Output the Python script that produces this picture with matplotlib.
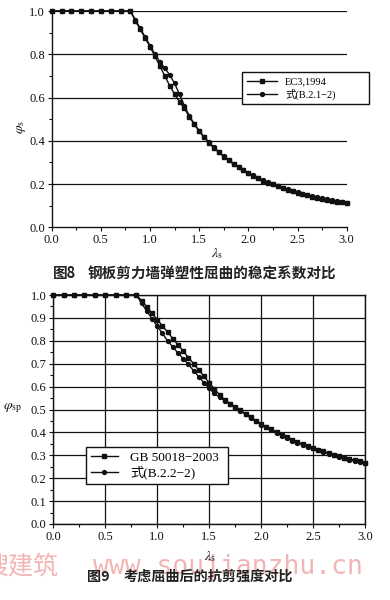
import matplotlib
matplotlib.use("Agg")
import matplotlib.pyplot as plt
from matplotlib.ticker import MultipleLocator, FormatStrFormatter

plt.rcParams['font.family'] = ['Liberation Serif', 'Noto Sans CJK SC']
plt.rcParams['mathtext.fontset'] = 'stix'

# ---------------- data ----------------
lam = [0.0, 0.1, 0.2, 0.3, 0.4, 0.5, 0.6, 0.7, 0.8,
       0.85, 0.9, 0.95, 1.0, 1.05, 1.1, 1.15, 1.2, 1.25, 1.3, 1.35, 1.4,
       1.45, 1.5, 1.55, 1.6, 1.65, 1.7, 1.75, 1.8, 1.85, 1.9, 1.95, 2.0,
       2.05, 2.1, 2.15, 2.2, 2.25, 2.3, 2.35, 2.4, 2.45, 2.5, 2.55, 2.6,
       2.65, 2.7, 2.75, 2.8, 2.85, 2.9, 2.95, 3.0]

# Figure 8
phi_ec3 = [1.0, 1.0, 1.0, 1.0, 1.0, 1.0, 1.0, 1.0, 1.0,
           0.955, 0.915, 0.875, 0.835, 0.79, 0.745, 0.70, 0.655, 0.615, 0.58, 0.55, 0.51,
           0.476, 0.444, 0.416, 0.391, 0.367, 0.346, 0.327, 0.309, 0.292, 0.277, 0.263, 0.25,
           0.238, 0.227, 0.216, 0.207, 0.198, 0.189, 0.181, 0.174, 0.167, 0.16, 0.154, 0.148,
           0.142, 0.137, 0.132, 0.128, 0.123, 0.119, 0.115, 0.111]
phi_b21 = [1.0, 1.0, 1.0, 1.0, 1.0, 1.0, 1.0, 1.0, 1.0,
           0.96, 0.92, 0.88, 0.84, 0.80, 0.765, 0.735, 0.705, 0.665, 0.615, 0.56, 0.515,
           0.478, 0.446, 0.418, 0.393, 0.369, 0.348, 0.329, 0.311, 0.294, 0.279, 0.265, 0.252,
           0.240, 0.229, 0.218, 0.209, 0.200, 0.191, 0.183, 0.176, 0.169, 0.162, 0.156, 0.150,
           0.144, 0.139, 0.134, 0.130, 0.125, 0.121, 0.117, 0.113]

# Figure 9
phi_gb = [1.0, 1.0, 1.0, 1.0, 1.0, 1.0, 1.0, 1.0, 1.0,
          0.975, 0.948, 0.92, 0.893, 0.865, 0.838, 0.81, 0.783, 0.755, 0.727, 0.70, 0.672,
          0.645, 0.617, 0.59, 0.565, 0.542, 0.526, 0.511, 0.497, 0.482, 0.466, 0.451, 0.437,
          0.425, 0.413, 0.401, 0.389, 0.378, 0.367, 0.358, 0.349, 0.341, 0.333, 0.325, 0.317,
          0.310, 0.303, 0.296, 0.290, 0.284, 0.278, 0.273, 0.268]
phi_b22 = [1.0, 1.0, 1.0, 1.0, 1.0, 1.0, 1.0, 1.0, 1.0,
           0.963, 0.93, 0.896, 0.864, 0.832, 0.80, 0.773, 0.747, 0.722, 0.697, 0.67, 0.643,
           0.617, 0.592, 0.57, 0.553, 0.538, 0.523, 0.508, 0.494, 0.479, 0.463, 0.448, 0.434,
           0.422, 0.41, 0.398, 0.386, 0.375, 0.364, 0.355, 0.346, 0.338, 0.330, 0.322, 0.314,
           0.307, 0.300, 0.293, 0.287, 0.281, 0.275, 0.270, 0.265]

labels8 = ['EC3,1994', '式(B.2.1−2)']
labels9 = ['GB 50018−2003', '式(B.2.2−2)']
title8 = ('图8', '钢板剪力墙弹塑性屈曲的稳定系数对比')
title9 = ('图9', '考虑屈曲后的抗剪强度对比')

W, H = 390, 600
fig = plt.figure(figsize=(3.9, 6.0), dpi=100)

def fx(px):
    return px / W

def fy(py):
    return 1 - py / H

ink = '#111111'

# ---------------- Figure 8 ----------------
ax1 = fig.add_axes([fx(51.7), fy(227.3), fx(346.7 - 51.7), (227.3 - 11) / H])
ax1.plot(lam, phi_ec3, color=ink, lw=1.0, marker='s', ms=3.2, label=labels8[0], clip_on=False, zorder=3)
ax1.plot(lam, phi_b21, color=ink, lw=1.0, marker='o', ms=2.8, label=labels8[1], clip_on=False, zorder=3)
ax1.set_xlim(0, 3)
ax1.set_ylim(0, 1)
ax1.xaxis.set_major_locator(MultipleLocator(0.5))
ax1.xaxis.set_minor_locator(MultipleLocator(0.25))
ax1.yaxis.set_major_locator(MultipleLocator(0.2))
ax1.yaxis.set_minor_locator(MultipleLocator(0.1))
ax1.xaxis.set_major_formatter(FormatStrFormatter('%.1f'))
ax1.yaxis.set_major_formatter(FormatStrFormatter('%.1f'))
for yv in [0.2, 0.4, 0.6, 0.8, 1.0]:
    ax1.axhline(yv, color=ink, lw=0.9, zorder=1)
for s in ['top', 'right']:
    ax1.spines[s].set_visible(False)
for s in ['left', 'bottom']:
    ax1.spines[s].set_linewidth(1.0)
    ax1.spines[s].set_color(ink)
ax1.tick_params(which='major', direction='out', length=3, width=0.8, labelsize=9, colors=ink, pad=2)
ax1.tick_params(which='minor', direction='out', length=2, width=0.8, colors=ink)
fig.text(fx(21), fy(127), r'$\varphi_{\mathrm{s}}$', rotation=90, ha='center', va='center', fontsize=10, color=ink)
fig.text(fx(216.7), fy(253.3), r'$\lambda_{\mathrm{s}}$', ha='center', va='center', fontsize=10, color=ink)
leg1 = ax1.legend(loc='upper left', bbox_to_anchor=(fx(242), fy(106.7), fx(369 - 242), (106.7 - 72.5) / H),
                  bbox_transform=fig.transFigure, mode='expand', borderaxespad=0,
                  fontsize=7.5, handlelength=2.9, handletextpad=0.8, borderpad=0.45,
                  labelspacing=0.2, fancybox=False, framealpha=1, edgecolor=ink)
leg1.get_frame().set_linewidth(1.0)
leg1.set_zorder(5)

# ---------------- Figure 9 ----------------
ax2 = fig.add_axes([fx(53.3), fy(524), fx(365 - 53.3), (524 - 295) / H])
ax2.plot(lam, phi_gb, color=ink, lw=1.0, marker='s', ms=3.2, label=labels9[0], clip_on=False, zorder=3)
ax2.plot(lam, phi_b22, color=ink, lw=1.0, marker='o', ms=2.8, label=labels9[1], clip_on=False, zorder=3)
ax2.set_xlim(0, 3)
ax2.set_ylim(0, 1)
ax2.xaxis.set_major_locator(MultipleLocator(0.5))
ax2.xaxis.set_minor_locator(MultipleLocator(0.25))
ax2.yaxis.set_major_locator(MultipleLocator(0.1))
ax2.yaxis.set_minor_locator(MultipleLocator(0.05))
ax2.xaxis.set_major_formatter(FormatStrFormatter('%.1f'))
ax2.yaxis.set_major_formatter(FormatStrFormatter('%.1f'))
ax2.grid(True, which='major', color=ink, lw=0.9, zorder=1)
ax2.set_axisbelow(True)
for s in ax2.spines.values():
    s.set_linewidth(1.0)
    s.set_color(ink)
ax2.tick_params(which='major', direction='out', length=3, width=0.8, labelsize=9, colors=ink, pad=2)
ax2.tick_params(which='minor', direction='out', length=2, width=0.8, colors=ink)
fig.text(fx(22), fy(408.3), r'$\varphi_{\mathrm{sp}}$', ha='right', va='center', fontsize=10, color=ink)
fig.text(fx(210), fy(557), r'$\lambda_{\mathrm{s}}$', ha='center', va='center', fontsize=10, color=ink)
leg2 = ax2.legend(loc='upper left', bbox_to_anchor=(fx(86), fy(484), fx(228 - 86), (484 - 447) / H),
                  bbox_transform=fig.transFigure, mode='expand', borderaxespad=0,
                  fontsize=9.5, handlelength=2.1, handletextpad=0.9, borderpad=0.35,
                  labelspacing=0.15, fancybox=False, framealpha=1, edgecolor=ink)
leg2.get_frame().set_linewidth(1.0)
leg2.set_zorder(5)

# ---------------- watermark ----------------
fig.text(fx(-17), fy(567), '搜建筑', family='Noto Sans CJK SC', fontsize=18, color='#f0a8a8',
         ha='left', va='center', alpha=0.85, zorder=0)
fig.text(fx(93), fy(567), 'www.soujianzhu.cn', family='DejaVu Sans Mono', fontsize=19, color='#f0a8a8',
         ha='left', va='center', alpha=0.85, zorder=0)

# ---------------- captions ----------------
fig.text(fx(53), fy(272.7), title8[0], family='Noto Sans CJK SC', weight='bold', fontsize=10.5,
         ha='left', va='center', color='#222222', zorder=2)
fig.text(fx(88), fy(272.7), title8[1], family='Noto Sans CJK SC', weight='bold', fontsize=10.5,
         ha='left', va='center', color='#222222', zorder=2)
fig.text(fx(87), fy(577), title9[0], family='Noto Sans CJK SC', weight='bold', fontsize=10.2,
         ha='left', va='center', color='#222222', zorder=2)
fig.text(fx(124), fy(577), title9[1], family='Noto Sans CJK SC', weight='bold', fontsize=10.2,
         ha='left', va='center', color='#222222', zorder=2)

fig.savefig('out.png', dpi=100)
